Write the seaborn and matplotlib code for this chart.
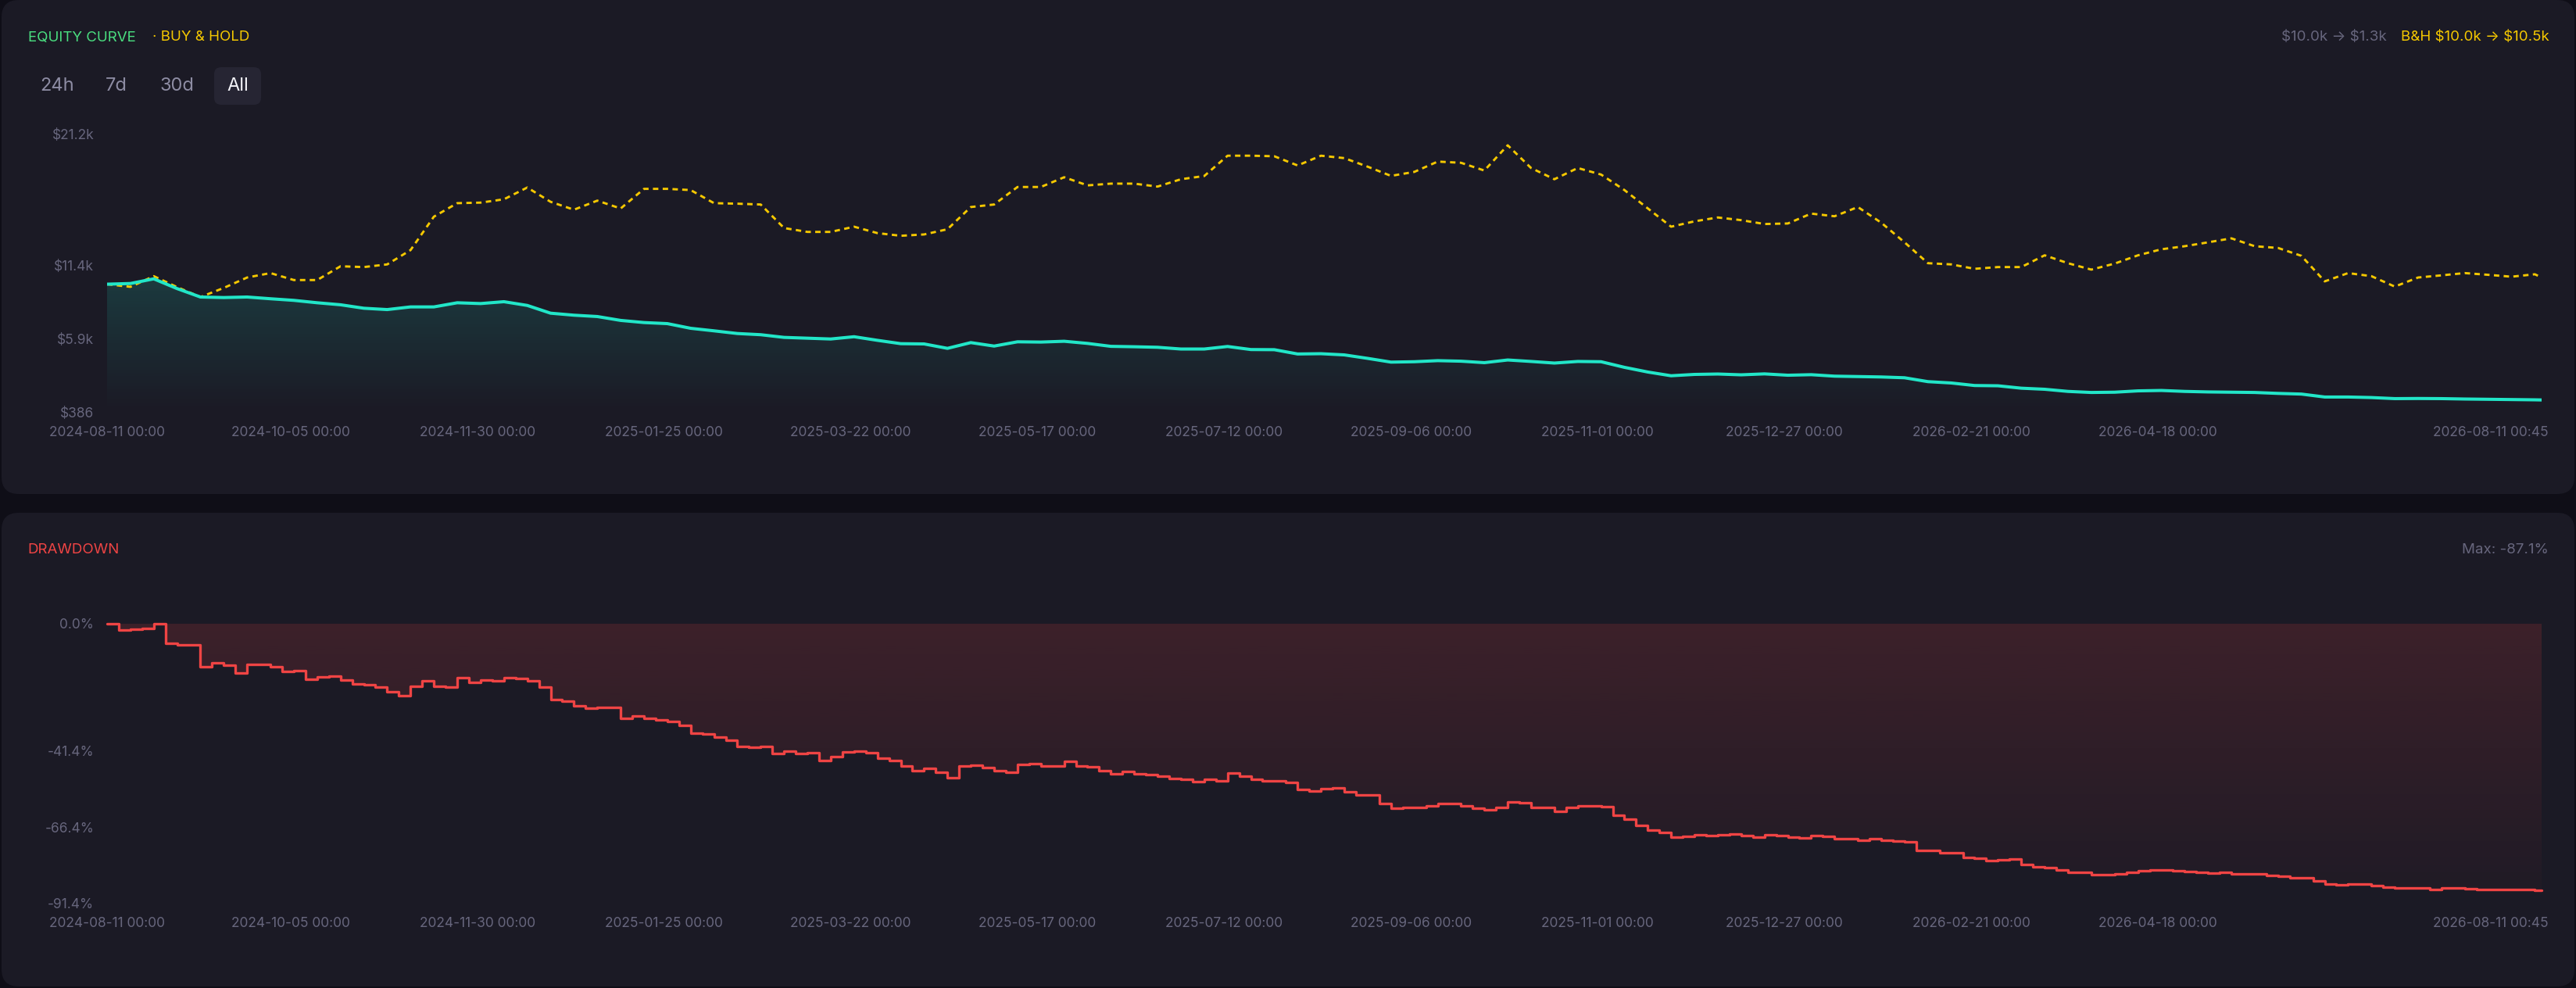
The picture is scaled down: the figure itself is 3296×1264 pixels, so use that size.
import numpy as np
import pandas as pd
import matplotlib
matplotlib.use("Agg")
import matplotlib.pyplot as plt
import matplotlib.colors as mcolors
import matplotlib.dates as mdates
from matplotlib.patches import FancyBboxPatch
from matplotlib.transforms import ScaledTranslation
import seaborn as sns

# --- data (weekly samples) ---
START = "2024-08-11 00:00"
MID_START = "2024-08-14 12:00"   # drawdown is also read half a week later
END = "2026-08-11 00:45"

equity_k = [
    10.00, 10.05, 10.40, 9.67, 9.04, 9.00, 9.04, 8.91, 8.79, 8.61,
    8.46, 8.20, 8.10, 8.30, 8.30, 8.61, 8.55, 8.69, 8.41, 7.83,
    7.68, 7.58, 7.29, 7.13, 7.05, 6.70, 6.51, 6.31, 6.22, 6.02,
    5.96, 5.90, 6.07, 5.80, 5.55, 5.53, 5.20, 5.63, 5.37, 5.69,
    5.67, 5.73, 5.57, 5.35, 5.32, 5.28, 5.15, 5.15, 5.34, 5.11,
    5.10, 4.78, 4.80, 4.71, 4.45, 4.17, 4.20, 4.28, 4.24, 4.13,
    4.33, 4.22, 4.10, 4.22, 4.20, 3.78, 3.43, 3.15, 3.25, 3.28,
    3.22, 3.29, 3.19, 3.23, 3.12, 3.09, 3.06, 3.00, 2.71, 2.61,
    2.42, 2.40, 2.22, 2.14, 1.98, 1.90, 1.92, 2.02, 2.05, 1.98,
    1.94, 1.92, 1.90, 1.83, 1.78, 1.56, 1.56, 1.52, 1.44, 1.45,
    1.44, 1.41, 1.39, 1.37, 1.35, 1.34,
]

buyhold_k = [
    10.00, 9.80, 10.60, 9.78, 9.04, 9.72, 10.50, 10.83, 10.31, 10.31,
    11.34, 11.28, 11.48, 12.55, 15.05, 16.06, 16.10, 16.35, 17.23, 16.16,
    15.57, 16.25, 15.66, 17.13, 17.13, 17.04, 16.06, 16.02, 15.96, 14.20,
    13.91, 13.91, 14.30, 13.82, 13.62, 13.72, 14.11, 15.77, 15.96, 17.27,
    17.27, 18.00, 17.39, 17.52, 17.52, 17.30, 17.85, 18.09, 19.61, 19.61,
    19.57, 18.88, 19.61, 19.43, 18.79, 18.10, 18.40, 19.17, 19.08, 18.50,
    20.39, 18.69, 17.85, 18.69, 18.20, 17.04, 15.67, 14.30, 14.70, 14.99,
    14.79, 14.50, 14.54, 15.28, 15.08, 15.77, 14.60, 13.13, 11.57, 11.48,
    11.15, 11.28, 11.28, 12.16, 11.57, 11.09, 11.54, 12.16, 12.61, 12.84,
    13.13, 13.43, 12.84, 12.71, 12.12, 10.21, 10.83, 10.60, 9.82, 10.50,
    10.66, 10.83, 10.70, 10.56, 10.74, 10.50,
]

drawdown_pct = [
    0.0, -1.8, 0.0, -6.9, -14.0, -13.5, -13.3, -14.0, -15.4, -17.3,
    -18.4, -19.8, -22.1, -20.5, -20.3, -17.5, -18.4, -17.5, -18.6, -24.7,
    -26.7, -27.4, -30.8, -31.0, -31.9, -35.8, -37.0, -40.1, -40.1, -41.7,
    -42.1, -43.5, -41.7, -44.0, -46.5, -47.3, -50.3, -46.3, -48.1, -46.0,
    -46.4, -44.9, -46.8, -49.0, -49.0, -49.8, -50.8, -50.8, -48.8, -50.7,
    -51.3, -54.1, -53.9, -54.8, -55.9, -60.2, -59.9, -58.8, -59.4, -60.7,
    -58.3, -60.0, -61.3, -59.4, -59.8, -63.9, -67.3, -69.8, -69.0, -69.0,
    -69.2, -69.0, -69.6, -69.3, -70.3, -70.6, -70.8, -71.3, -74.1, -74.9,
    -76.7, -77.1, -78.6, -79.7, -81.2, -82.0, -81.8, -80.8, -80.5, -81.0,
    -81.5, -81.7, -81.8, -82.5, -82.9, -85.0, -85.0, -85.5, -86.3, -86.2,
    -86.3, -86.5, -86.7, -86.9, -87.0, -87.1,
]

drawdown_mid_pct = [
    -2.1, -1.6, -6.4, -6.9, -12.7, -16.0, -13.3, -15.5, -18.1, -17.0,
    -19.6, -20.8, -23.4, -18.6, -20.6, -19.1, -18.6, -17.9, -20.6, -25.2,
    -27.7, -27.4, -30.0, -31.5, -33.3, -36.0, -38.0, -40.4, -42.4, -42.4,
    -44.7, -41.9, -42.2, -44.6, -48.1, -48.6, -46.4, -46.9, -48.6, -45.6,
    -46.4, -46.4, -48.1, -48.3, -49.2, -50.5, -51.5, -51.4, -49.8, -51.3,
    -51.9, -54.7, -53.7, -55.8, -58.6, -60.0, -59.4, -58.8, -60.2, -59.9,
    -58.5, -60.0, -60.0, -59.5, -62.6, -65.8, -68.1, -69.4, -69.2, -68.7,
    -69.7, -69.1, -70.0, -69.5, -70.1, -70.3, -71.0, -74.1, -74.9, -76.4,
    -77.4, -76.9, -79.5, -80.5, -81.2, -82.0, -81.3, -80.5, -80.8, -81.3,
    -81.3, -81.7, -82.3, -83.0, -84.0, -85.2, -85.1, -86.1, -86.2, -86.9,
    -86.3, -86.7, -86.7, -86.9,
]

x_tick_labels = [
    "2024-08-11 00:00", "2024-10-05 00:00", "2024-11-30 00:00", "2025-01-25 00:00",
    "2025-03-22 00:00", "2025-05-17 00:00", "2025-07-12 00:00", "2025-09-06 00:00",
    "2025-11-01 00:00", "2025-12-27 00:00", "2026-02-21 00:00", "2026-04-18 00:00",
    "2026-08-11 00:45",
]
eq_ticks = [386, 5900, 11400, 21200]
eq_tick_labels = [r"\$386", r"\$5.9k", r"\$11.4k", r"\$21.2k"]
dd_ticks = [0.0, -41.4, -66.4, -91.4]
dd_tick_labels = ["0.0%", "-41.4%", "-66.4%", "-91.4%"]

# --- colours ---
OUTER = "#0f0e17"
PANEL = "#1b1a25"
BTN = "#262533"
GREY = "#67667d"
TEAL = "#22e6c8"
GOLD = "#f5c800"
GREEN = "#4ade80"
RED = "#ef4444"

W, H = 3296, 1264

dates = list(pd.date_range(START, periods=105, freq="7D")) + [pd.Timestamp(END)]
df = pd.DataFrame({
    "date": dates,
    "equity": np.array(equity_k) * 1000,
    "buyhold": np.array(buyhold_k) * 1000,
})
df_dd = pd.concat([
    pd.DataFrame({"date": dates, "drawdown": drawdown_pct}),
    pd.DataFrame({"date": pd.date_range(MID_START, periods=104, freq="7D"),
                  "drawdown": drawdown_mid_pct}),
]).sort_values("date").reset_index(drop=True)

sns.set_theme(style="dark")
plt.rcParams["font.family"] = ["Inter", "DejaVu Sans"]
plt.rcParams["lines.scale_dashes"] = False


def gradient_fill(ax, x, y, base, color, a_top, a_bot, y_top, y_bot, step=None):
    coll = ax.fill_between(x, y, base, step=step, facecolor="none", edgecolor="none")
    img = np.zeros((256, 1, 4))
    img[..., :3] = mcolors.to_rgb(color)
    img[..., 3] = np.linspace(a_top, a_bot, 256)[:, None]
    xn = mdates.date2num(x)
    im = ax.imshow(img, extent=[xn[0], xn[-1], y_bot, y_top], origin="upper",
                   aspect="auto", zorder=1, interpolation="bilinear")
    im.set_clip_path(coll.get_paths()[0], transform=ax.transData)


def style_axis(ax, yticks, ylabels):
    for s in ax.spines.values():
        s.set_visible(False)
    ax.set_facecolor("none")
    ax.grid(False)
    tick_dates = [pd.Timestamp(t) for t in x_tick_labels]
    ax.set_xticks(tick_dates)
    ax.set_xticklabels(x_tick_labels)
    ax.set_yticks(yticks)
    ax.set_yticklabels(ylabels)
    ax.tick_params(axis="both", length=0, labelsize=12.5, labelcolor=GREY)
    ax.tick_params(axis="x", pad=12)
    ax.tick_params(axis="y", pad=12)
    ax.set_xlabel("")
    ax.set_ylabel("")
    ax.set_xlim(dates[0], dates[-1])
    # last date label sits flush with the right edge
    last = ax.xaxis.get_major_ticks()[-1].label1
    last.set_ha("right")
    last.set_transform(last.get_transform() + ScaledTranslation(9 / 100, 0, ax.figure.dpi_scale_trans))


fig = plt.figure(figsize=(W / 100, H / 100), dpi=100, facecolor=OUTER)

# background panels and header texts, in pixel coordinates
bg = fig.add_axes([0, 0, 1, 1], zorder=-10)
bg.set_xlim(0, W)
bg.set_ylim(H, 0)
bg.axis("off")
bg.add_patch(FancyBboxPatch((2, 0), W - 4, 632, boxstyle="round,pad=0,rounding_size=22",
                            fc=PANEL, ec="none"))
bg.add_patch(FancyBboxPatch((2, 656), W - 4, 606, boxstyle="round,pad=0,rounding_size=22",
                            fc=PANEL, ec="none"))
bg.add_patch(FancyBboxPatch((274, 86), 60, 48, boxstyle="round,pad=0,rounding_size=9",
                            fc=BTN, ec="none"))

bg.text(36, 48, "EQUITY CURVE", color=GREEN, fontsize=13.5, va="center", ha="left")
bg.text(195, 48, "· BUY & HOLD", color=GOLD, fontsize=13.5, va="center", ha="left")
for label, cx in [("24h", 73), ("7d", 149), ("30d", 226)]:
    bg.text(cx, 110, label, color="#8d8ca3", fontsize=17, va="center", ha="center")
bg.text(304, 110, "All", color="#f2f2f7", fontsize=17, va="center", ha="center")
bg.text(3054, 48, r"\$10.0k → \$1.3k", color=GREY, fontsize=13.5, va="center", ha="right")
bg.text(3262, 48, r"B&H \$10.0k → \$10.5k", color=GOLD, fontsize=13.5, va="center", ha="right")
bg.text(35, 704, "DRAWDOWN", color=RED, fontsize=13.5, va="center", ha="left")
bg.text(3261, 704, "Max: -87.1%", color=GREY, fontsize=13.5, va="center", ha="right")

# --- equity curve ---
ax1 = fig.add_axes([137 / W, 1 - 528 / H, 3115 / W, 356 / H])
sns.lineplot(data=df, x="date", y="buyhold", ax=ax1, color=GOLD, linewidth=2.1,
             errorbar=None, zorder=3)
bh_line = ax1.lines[-1]
bh_line.set_dashes([5.0, 4.0])
sns.lineplot(data=df, x="date", y="equity", ax=ax1, color=TEAL, linewidth=2.9,
             errorbar=None, zorder=4)
gradient_fill(ax1, df["date"], df["equity"], eq_ticks[0], TEAL, 0.16, 0.0,
              df["equity"].max(), eq_ticks[0])
style_axis(ax1, eq_ticks, eq_tick_labels)
ax1.set_ylim(eq_ticks[0], eq_ticks[-1])

# --- drawdown ---
ax2 = fig.add_axes([137 / W, 1 - 1156 / H, 3115 / W, 358 / H])
sns.lineplot(data=df_dd, x="date", y="drawdown", ax=ax2, color=RED, linewidth=2.4,
             errorbar=None, drawstyle="steps-post", zorder=4)
ax2.lines[-1].set_clip_on(False)
gradient_fill(ax2, df_dd["date"], df_dd["drawdown"], 0, RED, 0.16, 0.02, 0, dd_ticks[-1],
              step="post")
style_axis(ax2, dd_ticks, dd_tick_labels)
ax2.set_ylim(dd_ticks[-1], 0)

fig.savefig("out.png", dpi=100, facecolor=OUTER)
